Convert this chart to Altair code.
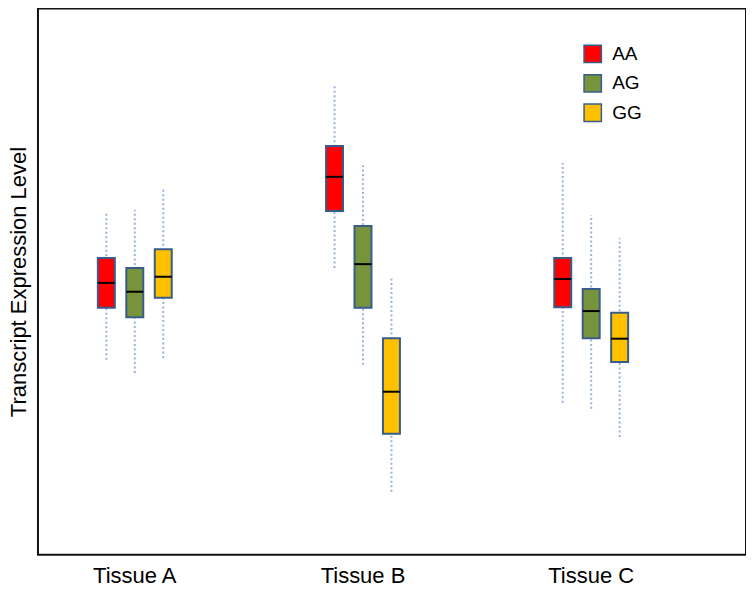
import altair as alt
import pandas as pd

tissues = ["Tissue A", "Tissue A", "Tissue A",
           "Tissue B", "Tissue B", "Tissue B",
           "Tissue C", "Tissue C", "Tissue C"]
genotypes = ["AA", "AG", "GG"] * 3
upper = [6.18, 6.24, 6.65, 8.48, 7.05, 5.01, 7.09, 6.15, 5.73]
q3 = [5.37, 5.19, 5.53, 7.40, 5.95, 3.92, 5.37, 4.81, 4.38]
median = [4.92, 4.76, 5.03, 6.84, 5.26, 2.95, 4.99, 4.41, 3.91]
q1 = [4.47, 4.30, 4.65, 6.22, 4.47, 2.19, 4.48, 3.92, 3.49]
lower = [3.53, 3.29, 3.56, 5.19, 3.44, 1.14, 2.75, 2.64, 2.13]

tissue_order = ["Tissue A", "Tissue B", "Tissue C"]
geno_order = ["AA", "AG", "GG"]
geno_colors = ["#ff0000", "#77933c", "#ffc000"]

df = pd.DataFrame({
    "tissue": tissues, "genotype": genotypes,
    "upper": upper, "q3": q3, "median": median, "q1": q1, "lower": lower,
})

FONT = "Liberation Sans"
BORDER = "#385d8a"

x_enc = alt.X("tissue:N", sort=tissue_order,
              scale=alt.Scale(paddingInner=0.5624, paddingOuter=0.3326, align=0.309),
              axis=alt.Axis(title=None, ticks=False, tickSize=0, domain=False, grid=False,
                            labelAngle=0, labelFont=FONT, labelFontSize=22,
                            labelColor="#000", labelPadding=11))
xo_enc = alt.XOffset("genotype:N", sort=geno_order,
                     scale=alt.Scale(paddingInner=0, paddingOuter=0.2544))
y_scale = alt.Scale(domain=[0, 9.89], nice=False, zero=False)

base = alt.Chart(df)

whisker = base.mark_rule(color="#9ab3dc", strokeWidth=2, strokeDash=[2, 2.5]).encode(
    x=x_enc, xOffset=xo_enc,
    y=alt.Y("lower:Q", scale=y_scale,
            axis=alt.Axis(title="Transcript Expression Level", labels=False, ticks=False,
                          tickSize=0, domain=False, grid=False, titleFont=FONT,
                          titleFontSize=22, titleFontWeight="normal", titleColor="#000",
                          titlePadding=7)),
    y2="upper:Q",
)

box = base.mark_bar(size=17, stroke=BORDER, strokeWidth=2).encode(
    x=x_enc, xOffset=xo_enc,
    y=alt.Y("q1:Q", scale=y_scale),
    y2="q3:Q",
    color=alt.Color("genotype:N", sort=geno_order,
                    scale=alt.Scale(domain=geno_order, range=geno_colors),
                    legend=alt.Legend(title=None, orient="none", legendX=546, legendY=36,
                                      symbolType="square", symbolSize=300,
                                      symbolStrokeColor=BORDER, symbolStrokeWidth=1.5,
                                      symbolOpacity=1, labelFont=FONT, labelFontSize=19,
                                      labelColor="#000", labelOffset=10, rowPadding=4.5,
                                      padding=0)),
)

med = base.mark_tick(orient="horizontal", size=17, thickness=2, color="#000", opacity=1).encode(
    x=x_enc, xOffset=xo_enc,
    y=alt.Y("median:Q", scale=y_scale),
)

chart = alt.layer(whisker, box, med).properties(
    width=709, height=547, padding=0
).configure_view(stroke="#111", strokeWidth=2)

chart.save("out.html", embed_options={"renderer": "svg", "actions": False})
